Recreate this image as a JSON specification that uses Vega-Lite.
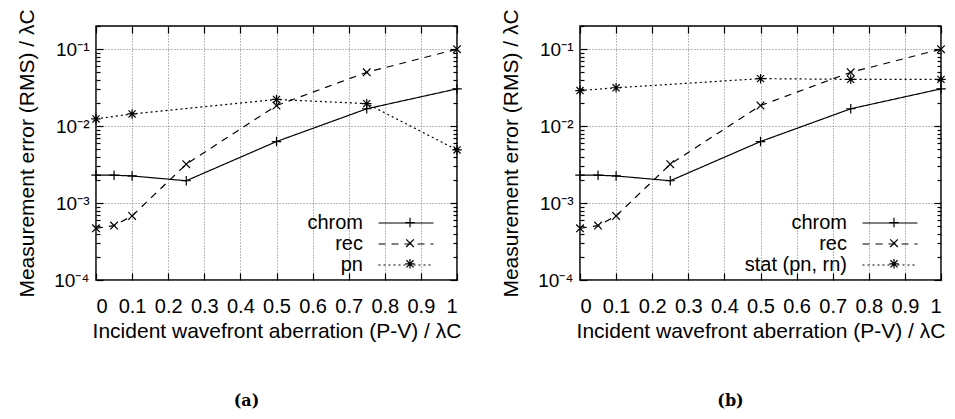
{
  "$schema": "https://vega.github.io/schema/vega-lite/v6.json",
  "background": "white",
  "padding": {"left": 15, "top": 8, "right": 5, "bottom": 5},
  "datasets": {
    "a": [
      {"series": "chrom", "x": 0, "y": 0.0023},
      {"series": "chrom", "x": 0.05, "y": 0.0023},
      {"series": "chrom", "x": 0.1, "y": 0.00225},
      {"series": "chrom", "x": 0.25, "y": 0.00195},
      {"series": "chrom", "x": 0.5, "y": 0.0063},
      {"series": "chrom", "x": 0.75, "y": 0.0168},
      {"series": "chrom", "x": 1, "y": 0.0305},
      {"series": "rec", "x": 0, "y": 0.00047},
      {"series": "rec", "x": 0.05, "y": 0.00051},
      {"series": "rec", "x": 0.1, "y": 0.00068},
      {"series": "rec", "x": 0.25, "y": 0.0032},
      {"series": "rec", "x": 0.5, "y": 0.0185},
      {"series": "rec", "x": 0.75, "y": 0.05},
      {"series": "rec", "x": 1, "y": 0.1},
      {"series": "pn", "x": 0, "y": 0.0124},
      {"series": "pn", "x": 0.1, "y": 0.0144},
      {"series": "pn", "x": 0.5, "y": 0.0222},
      {"series": "pn", "x": 0.75, "y": 0.0196},
      {"series": "pn", "x": 1, "y": 0.0049}
    ],
    "b": [
      {"series": "chrom", "x": 0, "y": 0.0023},
      {"series": "chrom", "x": 0.05, "y": 0.0023},
      {"series": "chrom", "x": 0.1, "y": 0.00225},
      {"series": "chrom", "x": 0.25, "y": 0.00195},
      {"series": "chrom", "x": 0.5, "y": 0.0063},
      {"series": "chrom", "x": 0.75, "y": 0.0168},
      {"series": "chrom", "x": 1, "y": 0.0305},
      {"series": "rec", "x": 0, "y": 0.00047},
      {"series": "rec", "x": 0.05, "y": 0.00051},
      {"series": "rec", "x": 0.1, "y": 0.00068},
      {"series": "rec", "x": 0.25, "y": 0.0032},
      {"series": "rec", "x": 0.5, "y": 0.0185},
      {"series": "rec", "x": 0.75, "y": 0.05},
      {"series": "rec", "x": 1, "y": 0.1},
      {"series": "stat (pn, rn)", "x": 0, "y": 0.029},
      {"series": "stat (pn, rn)", "x": 0.1, "y": 0.0315},
      {"series": "stat (pn, rn)", "x": 0.5, "y": 0.0414},
      {"series": "stat (pn, rn)", "x": 0.75, "y": 0.0405},
      {"series": "stat (pn, rn)", "x": 1, "y": 0.0405}
    ]
  },
  "hconcat": [
    {
      "width": 361,
      "height": 254,
      "data": {"name": "a"},
      "title": {"text": "(a)", "orient": "bottom", "anchor": "middle", "font": "DejaVu Serif", "fontWeight": "bold", "fontSize": 16, "offset": 52, "dx": -30},
      "layer": [
        {
          "mark": {"type": "line", "color": "black", "strokeWidth": 1.2},
          "encoding": {
            "x": {"field": "x", "type": "quantitative", "scale": {"domain": [0, 1], "nice": false},
              "axis": {"orient": "bottom", "values": [0, 0.1, 0.2, 0.3, 0.4, 0.5, 0.6, 0.7, 0.8, 0.9, 1], "format": "~g", "tickSize": -7, "tickColor": "black", "tickWidth": 1.2, "domain": false, "grid": true, "gridColor": "#777", "gridDash": [1, 2], "labelFont": "Liberation Sans", "labelFontSize": 20, "labelColor": "black", "labelPadding": 23, "title": "Incident wavefront aberration (P-V) / λC", "titleFont": "Liberation Sans", "titleFontSize": 21, "titleFontWeight": "normal", "titleColor": "black", "titlePadding": 4}},
            "y": {"field": "y", "type": "quantitative", "scale": {"type": "log", "domain": [0.0001, 0.2], "nice": false},
              "axis": {"orient": "left", "values": [0.0001, 0.0002, 0.0003, 0.0004, 0.0005, 0.0006, 0.0007, 0.0008, 0.0009, 0.001, 0.002, 0.003, 0.004, 0.005, 0.006, 0.007, 0.008, 0.009, 0.01, 0.02, 0.03, 0.04, 0.05, 0.06, 0.07, 0.08, 0.09, 0.1, 0.2],
                "labelExpr": "datum.value > 0.09 && datum.value < 0.11 ? '10⁻¹' : datum.value > 0.009 && datum.value < 0.011 ? '10⁻²' : datum.value > 0.0009 && datum.value < 0.0011 ? '10⁻³' : datum.value > 0.00009 && datum.value < 0.00011 ? '10⁻⁴' : ''",
                "tickSize": {"condition": {"test": "abs(log(datum.value)/LN10 - round(log(datum.value)/LN10)) < 0.01", "value": -7}, "value": -4},
                "tickColor": "black", "tickWidth": 1.2, "domain": false, "grid": true, "gridColor": "#777", "gridDash": [1, 2],
                "gridOpacity": {"condition": {"test": "abs(log(datum.value)/LN10 - round(log(datum.value)/LN10)) < 0.01", "value": 1}, "value": 0},
                "labelFont": "Liberation Sans", "labelFontSize": 19, "labelColor": "black", "labelPadding": 14,
                "title": "Measurement error (RMS) / λC", "titleFont": "Liberation Sans", "titleFontSize": 21, "titleFontWeight": "normal", "titleColor": "black", "titlePadding": 16}},
            "strokeDash": {"field": "series", "type": "nominal",
              "scale": {"domain": ["chrom", "rec", "pn"], "range": [[1, 0], [7, 6], [2, 3]]},
              "legend": {"orient": "none", "legendX": 299, "legendY": 186, "title": null, "symbolType": "M-2.75,0L2.75,0", "symbolSize": 400, "symbolStrokeWidth": 1.2, "symbolStrokeColor": "black", "labelAlign": "right", "labelOffset": -54, "labelFont": "Liberation Sans", "labelFontSize": 20, "labelColor": "black", "rowPadding": 0}
            },
            "order": {"field": "x", "type": "quantitative"}
          }
        },
        {
          "mark": {"type": "point", "filled": false, "stroke": "black", "strokeWidth": 1.2, "size": 90, "opacity": 1},
          "encoding": {
            "x": {"field": "x", "type": "quantitative", "scale": {"domain": [0, 1], "nice": false}, "axis": null},
            "y": {"field": "y", "type": "quantitative", "scale": {"type": "log", "domain": [0.0001, 0.2], "nice": false}, "axis": null},
            "shape": {"field": "series", "type": "nominal", "sort": ["chrom", "rec", "pn"],
              "scale": {"range": ["M-1,0L1,0M0,-1L0,1", "M-0.8,-0.8L0.8,0.8M-0.8,0.8L0.8,-0.8", "M-1,0L1,0M0,-1L0,1M-0.75,-0.75L0.75,0.75M-0.75,0.75L0.75,-0.75"]},
              "legend": {"orient": "none", "legendX": 304, "legendY": 186.6, "title": null, "symbolSize": 90, "symbolStrokeWidth": 1.2, "symbolStrokeColor": "black", "symbolFillColor": "transparent", "labelExpr": "''", "labelAlign": "right", "labelOffset": -40, "labelFont": "Liberation Sans", "labelFontSize": 20, "rowPadding": 0.6}}
          }
        },
        {
          "mark": {"type": "point", "opacity": 0},
          "encoding": {
            "x": {"field": "x", "type": "quantitative", "scale": {"domain": [0, 1], "nice": false},
              "axis": {"orient": "top", "values": [0, 0.1, 0.2, 0.3, 0.4, 0.5, 0.6, 0.7, 0.8, 0.9, 1], "labels": false, "tickSize": -7, "tickColor": "black", "tickWidth": 1.2, "domain": false, "grid": false, "title": null}},
            "y": {"field": "y", "type": "quantitative", "scale": {"type": "log", "domain": [0.0001, 0.2], "nice": false},
              "axis": {"orient": "right", "values": [0.0001, 0.0002, 0.0003, 0.0004, 0.0005, 0.0006, 0.0007, 0.0008, 0.0009, 0.001, 0.002, 0.003, 0.004, 0.005, 0.006, 0.007, 0.008, 0.009, 0.01, 0.02, 0.03, 0.04, 0.05, 0.06, 0.07, 0.08, 0.09, 0.1, 0.2], "labels": false,
                "tickSize": {"condition": {"test": "abs(log(datum.value)/LN10 - round(log(datum.value)/LN10)) < 0.01", "value": -7}, "value": -4},
                "tickColor": "black", "tickWidth": 1.2, "domain": false, "grid": false, "title": null}}
          }
        }
      ],
      "resolve": {"axis": {"x": "independent", "y": "independent"}}
    },
    {
      "width": 361,
      "height": 254,
      "data": {"name": "b"},
      "title": {"text": "(b)", "orient": "bottom", "anchor": "middle", "font": "DejaVu Serif", "fontWeight": "bold", "fontSize": 16, "offset": 52, "dx": -30},
      "layer": [
        {
          "mark": {"type": "line", "color": "black", "strokeWidth": 1.2},
          "encoding": {
            "x": {"field": "x", "type": "quantitative", "scale": {"domain": [0, 1], "nice": false},
              "axis": {"orient": "bottom", "values": [0, 0.1, 0.2, 0.3, 0.4, 0.5, 0.6, 0.7, 0.8, 0.9, 1], "format": "~g", "tickSize": -7, "tickColor": "black", "tickWidth": 1.2, "domain": false, "grid": true, "gridColor": "#777", "gridDash": [1, 2], "labelFont": "Liberation Sans", "labelFontSize": 20, "labelColor": "black", "labelPadding": 23, "title": "Incident wavefront aberration (P-V) / λC", "titleFont": "Liberation Sans", "titleFontSize": 21, "titleFontWeight": "normal", "titleColor": "black", "titlePadding": 4}},
            "y": {"field": "y", "type": "quantitative", "scale": {"type": "log", "domain": [0.0001, 0.2], "nice": false},
              "axis": {"orient": "left", "values": [0.0001, 0.0002, 0.0003, 0.0004, 0.0005, 0.0006, 0.0007, 0.0008, 0.0009, 0.001, 0.002, 0.003, 0.004, 0.005, 0.006, 0.007, 0.008, 0.009, 0.01, 0.02, 0.03, 0.04, 0.05, 0.06, 0.07, 0.08, 0.09, 0.1, 0.2],
                "labelExpr": "datum.value > 0.09 && datum.value < 0.11 ? '10⁻¹' : datum.value > 0.009 && datum.value < 0.011 ? '10⁻²' : datum.value > 0.0009 && datum.value < 0.0011 ? '10⁻³' : datum.value > 0.00009 && datum.value < 0.00011 ? '10⁻⁴' : ''",
                "tickSize": {"condition": {"test": "abs(log(datum.value)/LN10 - round(log(datum.value)/LN10)) < 0.01", "value": -7}, "value": -4},
                "tickColor": "black", "tickWidth": 1.2, "domain": false, "grid": true, "gridColor": "#777", "gridDash": [1, 2],
                "gridOpacity": {"condition": {"test": "abs(log(datum.value)/LN10 - round(log(datum.value)/LN10)) < 0.01", "value": 1}, "value": 0},
                "labelFont": "Liberation Sans", "labelFontSize": 19, "labelColor": "black", "labelPadding": 14,
                "title": "Measurement error (RMS) / λC", "titleFont": "Liberation Sans", "titleFontSize": 21, "titleFontWeight": "normal", "titleColor": "black", "titlePadding": 16}},
            "strokeDash": {"field": "series", "type": "nominal",
              "scale": {"domain": ["chrom", "rec", "stat (pn, rn)"], "range": [[1, 0], [7, 6], [2, 3]]},
              "legend": {"orient": "none", "legendX": 299, "legendY": 186, "title": null, "symbolType": "M-2.75,0L2.75,0", "symbolSize": 400, "symbolStrokeWidth": 1.2, "symbolStrokeColor": "black", "labelAlign": "right", "labelOffset": -54, "labelFont": "Liberation Sans", "labelFontSize": 20, "labelColor": "black", "rowPadding": 0}
            },
            "order": {"field": "x", "type": "quantitative"}
          }
        },
        {
          "mark": {"type": "point", "filled": false, "stroke": "black", "strokeWidth": 1.2, "size": 90, "opacity": 1},
          "encoding": {
            "x": {"field": "x", "type": "quantitative", "scale": {"domain": [0, 1], "nice": false}, "axis": null},
            "y": {"field": "y", "type": "quantitative", "scale": {"type": "log", "domain": [0.0001, 0.2], "nice": false}, "axis": null},
            "shape": {"field": "series", "type": "nominal", "sort": ["chrom", "rec", "stat (pn, rn)"],
              "scale": {"range": ["M-1,0L1,0M0,-1L0,1", "M-0.8,-0.8L0.8,0.8M-0.8,0.8L0.8,-0.8", "M-1,0L1,0M0,-1L0,1M-0.75,-0.75L0.75,0.75M-0.75,0.75L0.75,-0.75"]},
              "legend": {"orient": "none", "legendX": 304, "legendY": 186.6, "title": null, "symbolSize": 90, "symbolStrokeWidth": 1.2, "symbolStrokeColor": "black", "symbolFillColor": "transparent", "labelExpr": "''", "labelAlign": "right", "labelOffset": -40, "labelFont": "Liberation Sans", "labelFontSize": 20, "rowPadding": 0.6}}
          }
        },
        {
          "mark": {"type": "point", "opacity": 0},
          "encoding": {
            "x": {"field": "x", "type": "quantitative", "scale": {"domain": [0, 1], "nice": false},
              "axis": {"orient": "top", "values": [0, 0.1, 0.2, 0.3, 0.4, 0.5, 0.6, 0.7, 0.8, 0.9, 1], "labels": false, "tickSize": -7, "tickColor": "black", "tickWidth": 1.2, "domain": false, "grid": false, "title": null}},
            "y": {"field": "y", "type": "quantitative", "scale": {"type": "log", "domain": [0.0001, 0.2], "nice": false},
              "axis": {"orient": "right", "values": [0.0001, 0.0002, 0.0003, 0.0004, 0.0005, 0.0006, 0.0007, 0.0008, 0.0009, 0.001, 0.002, 0.003, 0.004, 0.005, 0.006, 0.007, 0.008, 0.009, 0.01, 0.02, 0.03, 0.04, 0.05, 0.06, 0.07, 0.08, 0.09, 0.1, 0.2], "labels": false,
                "tickSize": {"condition": {"test": "abs(log(datum.value)/LN10 - round(log(datum.value)/LN10)) < 0.01", "value": -7}, "value": -4},
                "tickColor": "black", "tickWidth": 1.2, "domain": false, "grid": false, "title": null}}
          }
        }
      ],
      "resolve": {"axis": {"x": "independent", "y": "independent"}}
    }
  ],
  "spacing": 34,
  "resolve": {"scale": {"strokeDash": "independent", "shape": "independent"}, "legend": {"strokeDash": "independent", "shape": "independent"}},
  "config": {
    "view": {"stroke": "black", "strokeWidth": 1.5},
    "font": "Liberation Sans"
  }
}
